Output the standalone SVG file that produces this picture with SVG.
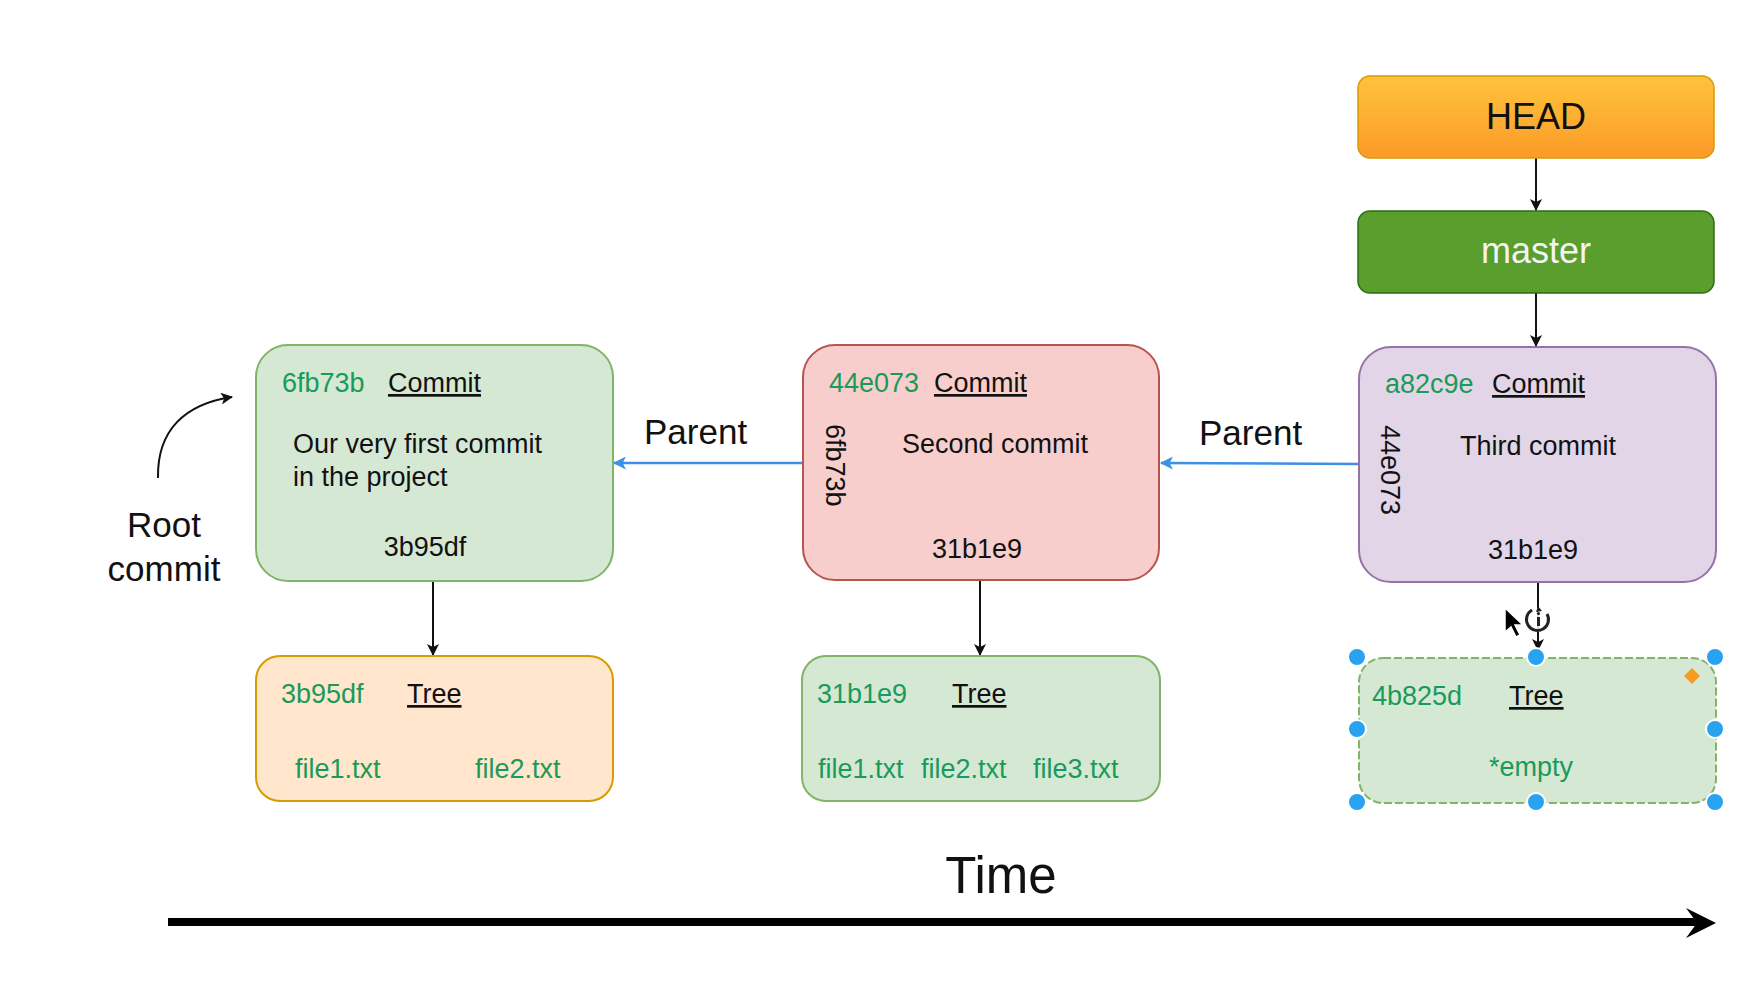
<svg xmlns="http://www.w3.org/2000/svg" width="1753" height="1008" viewBox="0 0 1753 1008">
<style>
text{font-family:"Liberation Sans",Arial,Helvetica,sans-serif;fill:#111}
.t{font-size:27px}
.g{fill:#1a9a5a}
.u{text-decoration:underline}
.big{font-size:35px}
.conn{fill:none;stroke:#111;stroke-width:2}
.blue{fill:none;stroke:#3d8fe8;stroke-width:2.5}
.handle{fill:#29a3ef;stroke:#fff;stroke-width:2}
</style>
<defs>
<linearGradient id="hg" x1="0" y1="0" x2="0" y2="1">
<stop offset="0" stop-color="#ffc33c"/>
<stop offset="1" stop-color="#fb9b28"/>
</linearGradient>
<marker id="ab" viewBox="0 0 12 12" refX="11" refY="6" markerWidth="12" markerHeight="12" markerUnits="userSpaceOnUse" orient="auto">
<path d="M0,0 L12,6 L0,12 L3,6 z" fill="#111"/>
</marker>
<marker id="abl" viewBox="0 0 12 12" refX="11" refY="6" markerWidth="13" markerHeight="13" markerUnits="userSpaceOnUse" orient="auto">
<path d="M0,0 L12,6 L0,12 L3,6 z" fill="#3d8fe8"/>
</marker>
</defs>
<rect width="1753" height="1008" fill="#fff"/>

<g id="connectors">
<path class="conn" d="M1536,158 L1536,210" marker-end="url(#ab)"/>
<path class="conn" d="M1536,293 L1536,346" marker-end="url(#ab)"/>
<path class="conn" d="M433,581 L433,655" marker-end="url(#ab)"/>
<path class="conn" d="M980,580 L980,655" marker-end="url(#ab)"/>
<path class="conn" d="M1538,582 L1538,650" marker-end="url(#ab)"/>
<path class="blue" d="M803,463 L614,463" marker-end="url(#abl)"/>
<path class="blue" d="M1359,464 L1161,463" marker-end="url(#abl)"/>
<path class="conn" d="M158,478 C157,430 185,404 232,397" marker-end="url(#ab)"/>
<path d="M168,922 L1698,922" stroke="#000" stroke-width="8" fill="none"/>
<path d="M1716,923 L1686,908 L1697,923 L1686,938 z" fill="#000"/>
</g>

<g id="head">
<rect x="1358" y="76" width="356" height="82" rx="12" fill="url(#hg)" stroke="#d79b00" stroke-width="1.5"/>
<text x="1536" y="129" text-anchor="middle" style="font-size:36px">HEAD</text>
</g>
<g id="master">
<rect x="1358" y="211" width="356" height="82" rx="12" fill="#5a9e2e" stroke="#2d6e12" stroke-width="1.5"/>
<text x="1536" y="263" text-anchor="middle" style="font-size:36px;fill:#f4f4f4">master</text>
</g>

<g id="commit1">
<rect x="256" y="345" width="357" height="236" rx="32" fill="#d5e8d4" stroke="#82b366" stroke-width="2"/>
<text class="t g" x="282" y="392">6fb73b</text>
<text class="t u" x="388" y="392">Commit</text>
<text class="t" x="293" y="453">Our very first commit</text>
<text class="t" x="293" y="486">in the project</text>
<text class="t" x="425" y="556" text-anchor="middle">3b95df</text>
</g>

<g id="commit2">
<rect x="803" y="345" width="356" height="235" rx="32" fill="#f8cecc" stroke="#b85450" stroke-width="2"/>
<text class="t g" x="829" y="392">44e073</text>
<text class="t u" x="934" y="392">Commit</text>
<text class="t" x="995" y="453" text-anchor="middle">Second commit</text>
<text class="t" x="977" y="558" text-anchor="middle">31b1e9</text>
<text class="t" transform="translate(826,424) rotate(90)">6fb73b</text>
</g>

<g id="commit3">
<rect x="1359" y="347" width="357" height="235" rx="32" fill="#e1d5e7" stroke="#9673a6" stroke-width="2"/>
<text class="t g" x="1385" y="393">a82c9e</text>
<text class="t u" x="1492" y="393">Commit</text>
<text class="t" x="1538" y="455" text-anchor="middle">Third commit</text>
<text class="t" x="1533" y="559" text-anchor="middle">31b1e9</text>
<text class="t" transform="translate(1381,425) rotate(90)">44e073</text>
</g>

<g id="tree1">
<rect x="256" y="656" width="357" height="145" rx="24" fill="#ffe6cc" stroke="#d79b00" stroke-width="2"/>
<text class="t g" x="281" y="703">3b95df</text>
<text class="t u" x="407" y="703">Tree</text>
<text class="t g" x="295" y="778">file1.txt</text>
<text class="t g" x="475" y="778">file2.txt</text>
</g>

<g id="tree2">
<rect x="802" y="656" width="358" height="145" rx="24" fill="#d5e8d4" stroke="#82b366" stroke-width="2"/>
<text class="t g" x="817" y="703">31b1e9</text>
<text class="t u" x="952" y="703">Tree</text>
<text class="t g" x="818" y="778">file1.txt</text>
<text class="t g" x="921" y="778">file2.txt</text>
<text class="t g" x="1033" y="778">file3.txt</text>
</g>

<g id="tree3">
<rect x="1359" y="658" width="357" height="145" rx="24" fill="#d5e8d4" stroke="#82b366" stroke-width="2" stroke-dasharray="8 3"/>
<text class="t g" x="1372" y="705">4b825d</text>
<text class="t u" x="1509" y="705">Tree</text>
<text class="t g" x="1531" y="776" text-anchor="middle">*empty</text>
<path d="M1692,668 L1700,676 L1692,684 L1684,676 z" fill="#f59b1f"/>
<circle class="handle" cx="1357" cy="657" r="9"/>
<circle class="handle" cx="1536" cy="657" r="9"/>
<circle class="handle" cx="1715" cy="657" r="9"/>
<circle class="handle" cx="1357" cy="729" r="9"/>
<circle class="handle" cx="1715" cy="729" r="9"/>
<circle class="handle" cx="1357" cy="802" r="9"/>
<circle class="handle" cx="1536" cy="802" r="9"/>
<circle class="handle" cx="1715" cy="802" r="9"/>
</g>

<g id="root-label">
<text class="big" x="164" y="537" text-anchor="middle">Root</text>
<text class="big" x="164" y="581" text-anchor="middle">commit</text>
</g>
<g id="parent-labels">
<text class="big" x="644" y="444">Parent</text>
<text class="big" x="1199" y="445">Parent</text>
</g>
<g id="time-label">
<text x="1001" y="893" text-anchor="middle" style="font-size:51px">Time</text>
</g>

<g id="cursor">
<circle cx="1538" cy="620" r="12" fill="#fff" fill-opacity="0.85"/>
<path d="M1532,610 A11,11 0 1 0 1547,614" fill="none" stroke="#222" stroke-width="3"/>
<path d="M1538,606 L1542,611 L1536,612 z" fill="#222"/>
<rect x="1537" y="617" width="3" height="9" fill="#222"/>
<circle cx="1538.5" cy="613.5" r="1.6" fill="#222"/>
<path d="M1505,608 L1505,632 L1511,627 L1516,637 L1520,635 L1515,625 L1523,625 z" fill="#000" stroke="#fff" stroke-width="1.5"/>
</g>
</svg>
